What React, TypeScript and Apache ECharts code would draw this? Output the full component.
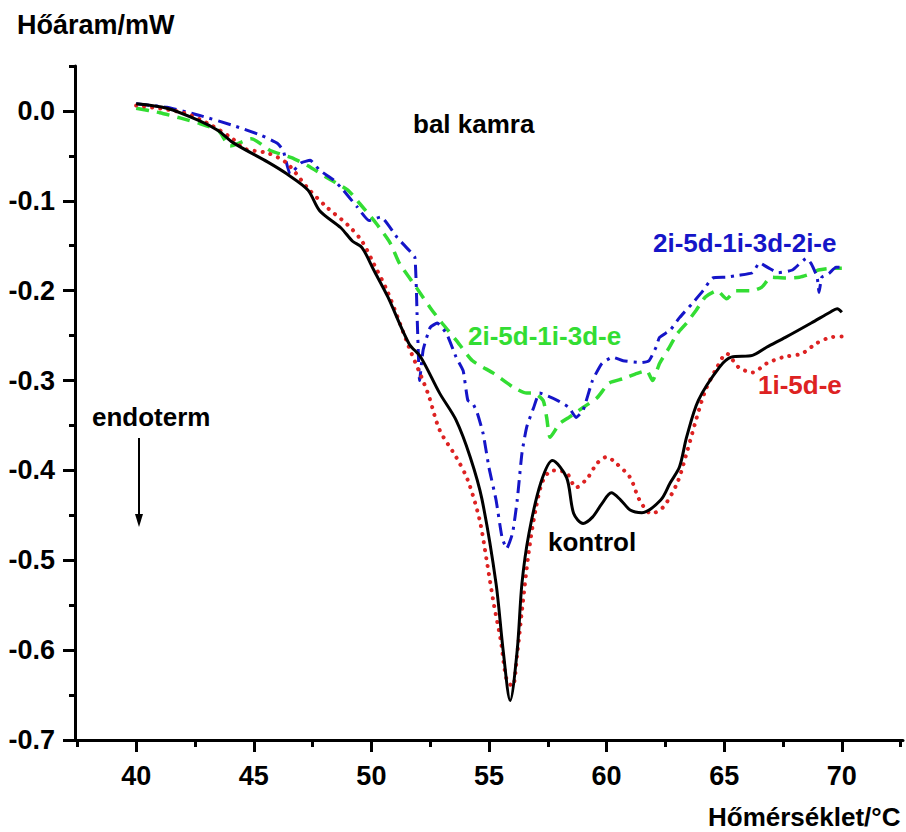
import React, { useEffect, useRef } from "react";
import * as echarts from "echarts";

// kontrol (black solid)
const kontrolX = [40, 41.3, 42.7, 43.5, 44.1, 45.6, 46.4, 47.3, 47.8, 48.7, 49.2, 49.6, 50.1, 50.7, 51.6, 52.1, 52.9, 53.6, 54.2, 54.7, 55.3, 55.6, 55.9, 56.2, 56.4, 56.7, 57.2, 57.7, 58.3, 58.6, 59.0, 59.4, 59.8, 60.2, 60.6, 61.0, 61.5, 62.3, 62.7, 63.1, 63.4, 63.9, 64.8, 65.3, 66.2, 66.8, 67.6, 68.7, 69.5, 69.8, 70.0];
const kontrolY = [0.008, 0.003, -0.011, -0.022, -0.035, -0.057, -0.070, -0.088, -0.111, -0.130, -0.145, -0.152, -0.177, -0.207, -0.259, -0.274, -0.314, -0.344, -0.385, -0.432, -0.526, -0.600, -0.656, -0.600, -0.526, -0.470, -0.414, -0.389, -0.408, -0.448, -0.459, -0.452, -0.437, -0.425, -0.433, -0.444, -0.447, -0.433, -0.414, -0.396, -0.363, -0.322, -0.285, -0.274, -0.272, -0.263, -0.252, -0.236, -0.224, -0.220, -0.224];

// 1i-5d-e (red dotted)
const redX = [40, 42.0, 43.2, 44.1, 44.6, 45.6, 46.4, 47.3, 48.1, 49.0, 49.6, 50.1, 50.7, 51.6, 52.4, 52.9, 53.6, 54.1, 54.6, 54.9, 55.2, 55.5, 55.75, 56.0, 56.2, 56.4, 56.7, 57.0, 57.3, 57.7, 58.3, 58.7, 59.2, 59.6, 60.0, 60.4, 61.0, 61.4, 61.9, 62.4, 63.0, 63.4, 63.8, 64.2, 64.7, 65.1, 65.6, 66.2, 66.8, 67.5, 68.3, 68.9, 69.5, 70.0];
const redY = [0.006, -0.002, -0.016, -0.031, -0.042, -0.047, -0.058, -0.086, -0.107, -0.127, -0.145, -0.170, -0.202, -0.263, -0.314, -0.355, -0.385, -0.411, -0.455, -0.500, -0.548, -0.589, -0.633, -0.640, -0.604, -0.556, -0.489, -0.441, -0.411, -0.400, -0.403, -0.419, -0.408, -0.392, -0.385, -0.392, -0.408, -0.433, -0.448, -0.441, -0.414, -0.381, -0.344, -0.311, -0.285, -0.270, -0.285, -0.291, -0.281, -0.274, -0.270, -0.259, -0.252, -0.251];

// 2i-5d-1i-3d-e (green dashed)
const greenX = [40, 41.0, 41.9, 42.7, 43.5, 44.0, 44.9, 45.7, 46.6, 47.3, 48.1, 49.0, 49.5, 50.2, 50.8, 51.2, 51.9, 52.5, 53.0, 53.6, 54.3, 55.2, 56.0, 56.6, 56.9, 57.3, 57.45, 57.6, 58.0, 58.4, 59.0, 59.6, 60.1, 60.7, 61.3, 61.7, 61.95, 62.25, 62.6, 63.0, 63.4, 63.8, 64.2, 64.7, 65.1, 65.5, 66.2, 66.6, 67.0, 67.6, 68.2, 68.7, 69.0, 69.6, 70.0];
const greenY = [0.003, -0.002, -0.008, -0.014, -0.022, -0.039, -0.031, -0.044, -0.052, -0.061, -0.074, -0.088, -0.103, -0.125, -0.147, -0.170, -0.196, -0.219, -0.236, -0.255, -0.278, -0.292, -0.307, -0.314, -0.314, -0.322, -0.341, -0.363, -0.348, -0.341, -0.330, -0.319, -0.303, -0.298, -0.292, -0.289, -0.300, -0.281, -0.266, -0.248, -0.236, -0.222, -0.207, -0.200, -0.209, -0.200, -0.200, -0.196, -0.185, -0.186, -0.185, -0.181, -0.177, -0.175, -0.175];

// 2i-5d-1i-3d-2i-e (blue dash-dot)
const blueX = [40, 41.3, 42.7, 44.1, 45.3, 46.0, 46.25, 46.55, 47.0, 47.4, 47.8, 48.4, 48.8, 49.4, 49.9, 50.4, 51.1, 51.6, 51.85, 51.95, 52.05, 52.2, 52.5, 52.8, 53.2, 53.6, 53.9, 54.1, 54.3, 54.5, 54.75, 55.0, 55.3, 55.55, 55.75, 56.0, 56.2, 56.4, 56.6, 56.9, 57.15, 57.9, 58.4, 58.7, 59.0, 59.4, 59.8, 60.25, 60.7, 61.5, 61.8, 62.1, 62.25, 62.7, 63.1, 63.65, 64.1, 64.5, 65.1, 65.6, 66.2, 66.5, 66.9, 67.3, 67.9, 68.5, 68.7, 68.95, 69.03, 69.15, 69.45, 69.75, 70.0];
const blueY = [0.008, 0.004, -0.005, -0.016, -0.027, -0.036, -0.044, -0.070, -0.058, -0.055, -0.066, -0.077, -0.088, -0.107, -0.122, -0.118, -0.141, -0.155, -0.163, -0.233, -0.300, -0.266, -0.241, -0.236, -0.248, -0.274, -0.289, -0.322, -0.325, -0.336, -0.359, -0.397, -0.433, -0.474, -0.487, -0.470, -0.433, -0.381, -0.352, -0.330, -0.314, -0.322, -0.330, -0.341, -0.333, -0.300, -0.281, -0.274, -0.278, -0.280, -0.278, -0.263, -0.252, -0.244, -0.230, -0.214, -0.200, -0.186, -0.185, -0.183, -0.180, -0.169, -0.175, -0.180, -0.177, -0.164, -0.170, -0.185, -0.202, -0.185, -0.181, -0.174, -0.174];

const xMajorTicks = [40, 45, 50, 55, 60, 65, 70];
const xMinorTicks = [37.5, 42.5, 47.5, 52.5, 57.5, 62.5, 67.5, 72.5];
const yMajorTicks = [-0.7, -0.6, -0.5, -0.4, -0.3, -0.2, -0.1, 0];
const yMinorTicks = [-0.65, -0.55, -0.45, -0.35, -0.25, -0.15, -0.05, 0.05];

const FONT = '"Liberation Sans", Arial, Helvetica, sans-serif';

function zip(xs: number[], ys: number[]) {
  return xs.map((x, i) => [x, ys[i]]);
}

export default function App() {
  const ref = useRef<HTMLDivElement>(null);
  useEffect(() => {
    if (!ref.current) return;
    const chart = echarts.init(ref.current, undefined, { renderer: "svg" });
    const labelStyle = { fontSize: 27, fontWeight: "bold" as const, color: "#000", fontFamily: FONT };
    const txt = (text: string, x: number, y: number, fill: string, size = 26) => ({
      type: "text",
      x,
      y,
      style: { text, fill, fontSize: size, fontWeight: "bold", fontFamily: FONT, align: "left", verticalAlign: "middle" },
    });
    chart.setOption({
      animation: false,
      backgroundColor: "#fff",
      grid: { left: 75, right: 3, top: 66, bottom: 92 },
      xAxis: [
        {
          type: "value",
          min: 37.4,
          max: 72.6,
          position: "bottom",
          axisLine: { show: true, onZero: false, lineStyle: { color: "#000", width: 3 } },
          axisTick: { show: true, customValues: xMajorTicks, length: 12, lineStyle: { color: "#000", width: 3 } },
          axisLabel: { ...labelStyle, customValues: xMajorTicks, margin: 22 },
          splitLine: { show: false },
        },
        {
          type: "value",
          min: 37.4,
          max: 72.6,
          position: "bottom",
          axisLine: { show: false, onZero: false },
          axisTick: { show: true, customValues: xMinorTicks, length: 7, lineStyle: { color: "#000", width: 3 } },
          axisLabel: { show: false },
          splitLine: { show: false },
        },
      ],
      yAxis: [
        {
          type: "value",
          min: -0.7,
          max: 0.05,
          position: "left",
          axisLine: { show: true, onZero: false, lineStyle: { color: "#000", width: 3 } },
          axisTick: { show: true, customValues: yMajorTicks, length: 12, lineStyle: { color: "#000", width: 3 } },
          axisLabel: { ...labelStyle, customValues: yMajorTicks, margin: 20, formatter: (v: number) => v.toFixed(1) },
          splitLine: { show: false },
        },
        {
          type: "value",
          min: -0.7,
          max: 0.05,
          position: "left",
          axisLine: { show: false, onZero: false },
          axisTick: { show: true, customValues: yMinorTicks, length: 6, lineStyle: { color: "#000", width: 3 } },
          axisLabel: { show: false },
          splitLine: { show: false },
        },
      ],
      series: [
        {
          name: "2i-5d-1i-3d-e",
          type: "line",
          data: zip(greenX, greenY),
          showSymbol: false,
          symbol: "none",
          smooth: 0.2,
          lineStyle: { color: "#33dd33", width: 3.5, type: [13, 8] },
        },
        {
          name: "2i-5d-1i-3d-2i-e",
          type: "line",
          data: zip(blueX, blueY),
          showSymbol: false,
          symbol: "none",
          smooth: 0.15,
          lineStyle: { color: "#1515c8", width: 3, type: [13, 6, 3, 6] },
        },
        {
          name: "1i-5d-e",
          type: "line",
          data: zip(redX, redY),
          showSymbol: false,
          symbol: "none",
          smooth: 0.3,
          lineStyle: { color: "#dd2222", width: 4, type: [0.1, 8], cap: "round" },
        },
        {
          name: "kontrol",
          type: "line",
          data: zip(kontrolX, kontrolY),
          showSymbol: false,
          symbol: "none",
          smooth: 0.3,
          lineStyle: { color: "#000", width: 3 },
        },
      ],
      graphic: [
        txt("Hőáram/mW", 17, 25, "#000", 27),
        txt("Hőmérséklet/°C", 708, 817, "#000", 26),
        txt("bal kamra", 413, 124, "#000"),
        txt("endoterm", 92, 417, "#000"),
        txt("kontrol", 548, 542, "#000"),
        txt("2i-5d-1i-3d-e", 468, 336, "#33dd33"),
        txt("2i-5d-1i-3d-2i-e", 653, 243, "#1515c8"),
        txt("1i-5d-e", 758, 385, "#dd2222"),
        { type: "line", shape: { x1: 139, y1: 438, x2: 139, y2: 518 }, style: { stroke: "#000", lineWidth: 2 } },
        { type: "polygon", shape: { points: [[135, 514], [143, 514], [139, 527]] }, style: { fill: "#000" } },
      ],
    });
    return () => chart.dispose();
  }, []);
  return (
    <div
      ref={ref}
      style={{ position: "fixed", left: 0, top: 0, width: 906, height: 832, background: "#fff" }}
    />
  );
}
